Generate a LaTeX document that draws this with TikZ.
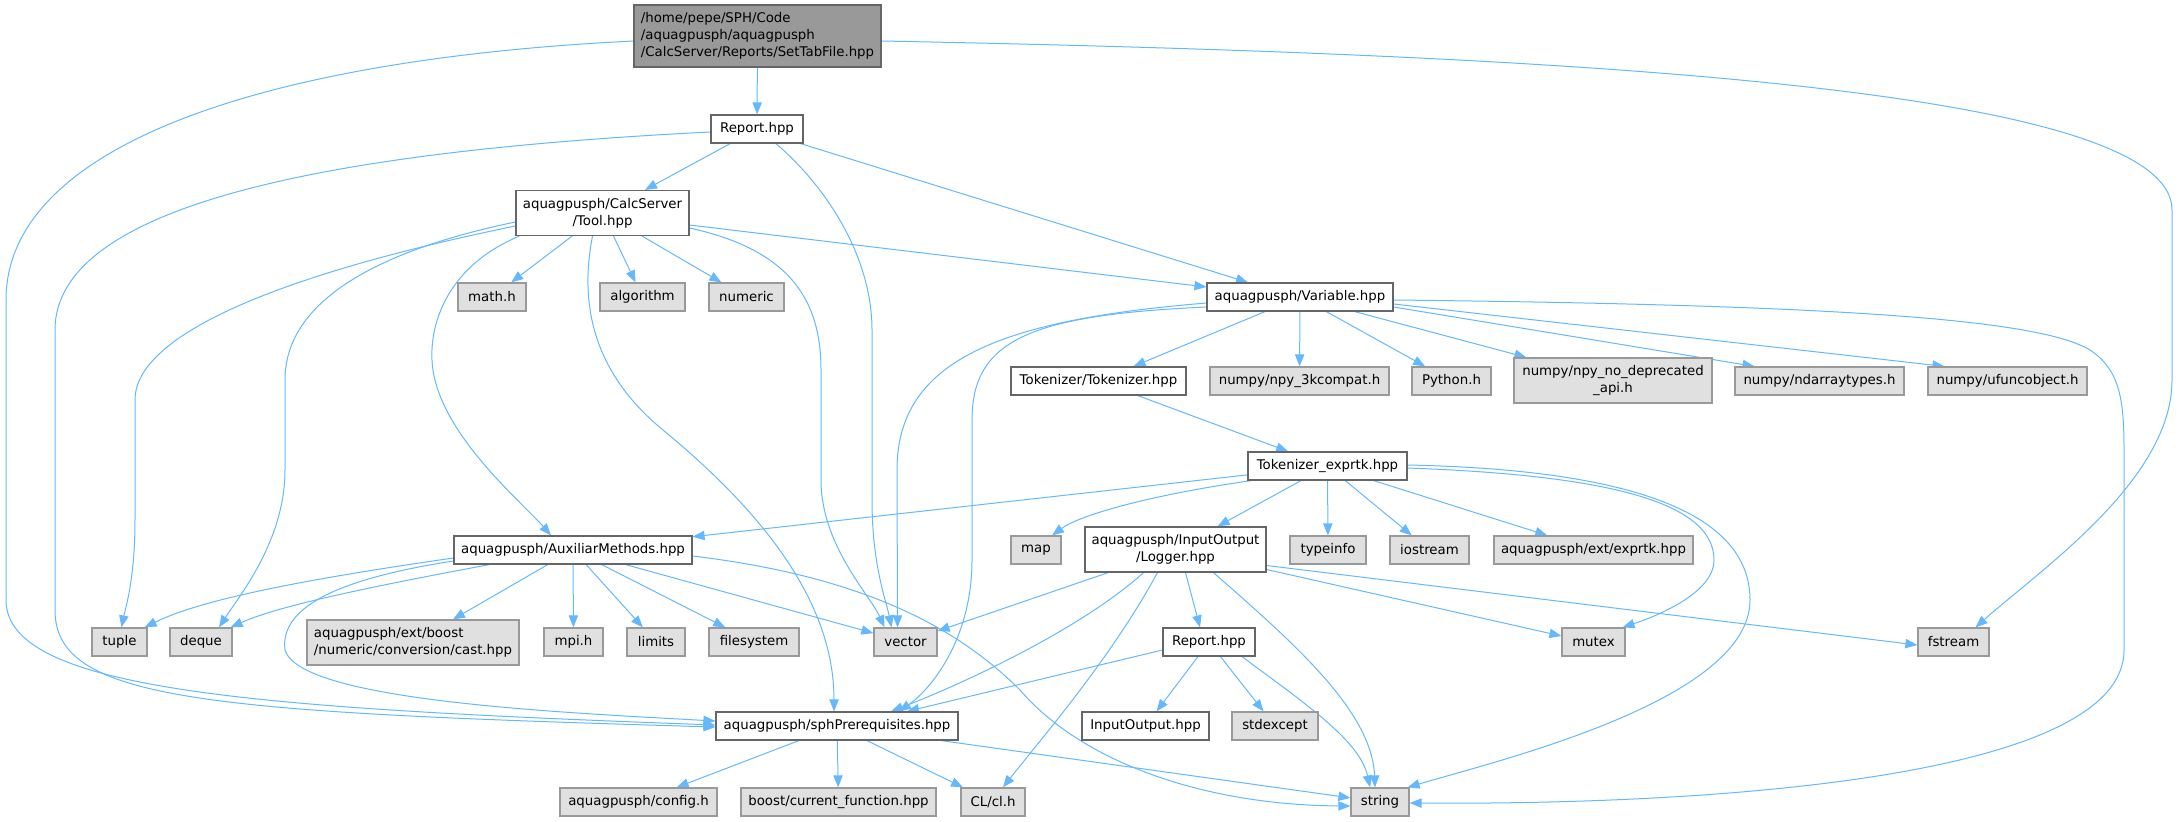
\documentclass[tikz,border=0pt]{standalone}
\usepackage{fontspec}
\setmainfont{DejaVu Sans}
\usetikzlibrary{arrows.meta,calc}
\definecolor{edgec}{HTML}{63B8FF}
\definecolor{grayfill}{HTML}{E0E0E0}
\definecolor{graydraw}{HTML}{999999}
\definecolor{whitedraw}{HTML}{666666}
\definecolor{rootfill}{HTML}{999999}
\pgfdeclarelayer{bg}
\pgfsetlayers{bg,main}
\begin{document}
\begin{tikzpicture}[x=0.75pt,y=-0.75pt,
  filebox/.style={draw=whitedraw,fill=white,line width=0.9pt,inner sep=0pt,minimum height=21pt,font=\fontsize{10}{12.75}\selectfont},
  sysbox/.style={filebox,draw=graydraw,fill=grayfill},
  rootbox/.style={filebox,fill=rootfill,minimum height=46.5pt,align=left},
  wd/.style={minimum width=#1*0.75pt},
  two/.style={minimum height=33.75pt,align=center},
  twol/.style={minimum height=33.75pt,align=left},
  dep/.style={draw=edgec,line width=0.75pt,-{Triangle[length=9pt,width=7pt]}}]
\useasboundingbox (0,0) rectangle (2180,821);

% ---------- nodes ----------
\node[rootbox,wd=247] (root) at (757.5,36) {/home/pepe/SPH/Code\\/aquagpusph/aquagpusph\\/CalcServer/Reports/SetTabFile.hpp};
\node[filebox,wd=92] (report1) at (757,129) {Report.hpp};
\node[filebox,wd=173,two] (tool) at (602.5,213) {aquagpusph/CalcServer\\/Tool.hpp};
\node[sysbox,wd=68] (mathh) at (492,297) {math.h};
\node[sysbox,wd=85] (algorithm) at (642.5,297) {algorithm};
\node[sysbox,wd=75] (numeric) at (746.5,297) {numeric};
\node[filebox,wd=186] (variable) at (1300,297) {aquagpusph/Variable.hpp};
\node[filebox,wd=175] (tokenizer) at (1098.5,381) {Tokenizer/Tokenizer.hpp};
\node[sysbox,wd=179] (npy3k) at (1299.5,381) {numpy/npy\_3kcompat.h};
\node[sysbox,wd=79] (python) at (1451.5,381) {Python.h};
\node[sysbox,wd=198,two] (nodep) at (1613,380.5) {numpy/npy\_no\_deprecated\\\_api.h};
\node[sysbox,wd=169] (ndarray) at (1819.5,381) {numpy/ndarraytypes.h};
\node[sysbox,wd=159] (ufunc) at (2007.5,381) {numpy/ufuncobject.h};
\node[filebox,wd=159] (exprtk) at (1327.5,466) {Tokenizer\_exprtk.hpp};
\node[filebox,wd=238] (aux) at (573,550) {aquagpusph/AuxiliarMethods.hpp};
\node[sysbox,wd=50] (map) at (1036,550) {map};
\node[filebox,wd=181,two] (logger) at (1175.5,549.5) {aquagpusph/InputOutput\\/Logger.hpp};
\node[sysbox,wd=76] (typeinfo) at (1328,550) {typeinfo};
\node[sysbox,wd=79] (iostream) at (1429.5,550) {iostream};
\node[sysbox,wd=199] (extexprtk) at (1593.5,550) {aquagpusph/ext/exprtk.hpp};
\node[sysbox,wd=55] (tuple) at (119.5,642) {tuple};
\node[sysbox,wd=62] (deque) at (201,642) {deque};
\node[sysbox,wd=212,twol] (boostcast) at (413,642.5) {aquagpusph/ext/boost\\/numeric/conversion/cast.hpp};
\node[sysbox,wd=59] (mpih) at (573.5,642) {mpi.h};
\node[sysbox,wd=58] (limits) at (656,642) {limits};
\node[sysbox,wd=90] (filesystem) at (754,642) {filesystem};
\node[sysbox,wd=63] (vector) at (905.5,642) {vector};
\node[filebox,wd=92] (report2) at (1209,642) {Report.hpp};
\node[sysbox,wd=63] (mutex) at (1593.5,642) {mutex};
\node[sysbox,wd=71] (fstream) at (1953.5,642) {fstream};
\node[filebox,wd=242] (sph) at (837,726) {aquagpusph/sphPrerequisites.hpp};
\node[filebox,wd=127] (inout) at (1145.5,726) {InputOutput.hpp};
\node[sysbox,wd=86] (stdexcept) at (1275,726) {stdexcept};
\node[sysbox,wd=157] (config) at (638.5,802) {aquagpusph/config.h};
\node[sysbox,wd=195] (curfunc) at (838.5,802) {boost/current\_function.hpp};
\node[sysbox,wd=64] (clh) at (993,802) {CL/cl.h};
\node[sysbox,wd=58] (string) at (1380,802) {string};

% ---------- edges ----------
\begin{pgfonlayer}{bg}
% root
\draw[dep] (root) -- (report1);
\draw[dep] ($(root.west)+(0,5)$) .. controls (250,60) and (6,150) .. (6,300) -- (6,600) .. controls (6,690) and (250,708) .. ($(sph.west)+(0,-1)$);
\draw[dep] ($(root.east)+(0,5)$) .. controls (1600,55) and (2172,90) .. (2172,210) -- (2172,380) .. controls (2172,480) and (2040,570) .. ($(fstream.north)+(22,0)$);
% report1
\draw[dep] (report1) -- (tool);
\draw[dep] ($(report1.west)+(0,3)$) .. controls (350,150) and (55,200) .. (55,330) -- (55,610) .. controls (55,700) and (200,712) .. ($(sph.west)+(0,1)$);
\draw[dep] ($(report1.south)+(19,0)$) .. controls (830,190) and (872,260) .. (872,330) -- (872,500) .. controls (872,565) and (886,600) .. ($(vector.north)+(-14,0)$);
\draw[dep] ($(report1.south east)+(-3,0)$) -- ($(variable.north)+(-52,0)$);
% tool
\draw[dep] (tool) -- (mathh);
\draw[dep] (tool) -- (algorithm);
\draw[dep] (tool) -- (numeric);
\draw[dep] ($(tool.east)+(0,12)$) -- ($(variable.west)+(0,-10)$);
\draw[dep] ($(tool.west)+(0,13)$) .. controls (300,270) and (135,330) .. (135,400) -- (135,520) .. controls (135,580) and (125,610) .. ($(tuple.north)+(2,0)$);
\draw[dep] ($(tool.west)+(0,9)$) .. controls (380,250) and (285,300) .. (285,380) -- (285,470) .. controls (285,540) and (240,595) .. ($(deque.north)+(18,0)$);
\draw[dep] ($(tool.south west)+(4,0)$) .. controls (450,265) and (430,320) .. (432,360) .. controls (435,430) and (520,500) .. ($(aux.north)+(-22,0)$);
\draw[dep] ($(tool.south)+(-10,0)$) .. controls (580,300) and (590,370) .. (663,430) .. controls (760,510) and (834,600) .. ($(sph.north)+(-3,0)$);
\draw[dep] ($(tool.east)+(0,15)$) .. controls (790,250) and (821,300) .. (821,370) -- (821,480) .. controls (821,545) and (870,595) .. ($(vector.north)+(-21,0)$);
% variable
\draw[dep] ($(variable.west)+(0,6)$) .. controls (1000,320) and (897,360) .. (897,470) -- ($(vector.north)+(-8,0)$);
\draw[dep] ($(variable.west)+(0,10)$) .. controls (1030,315) and (972,340) .. (972,420) -- (972,560) .. controls (972,640) and (930,690) .. ($(sph.north)+(62,0)$);
\draw[dep] (variable) -- (tokenizer);
\draw[dep] (variable) -- (npy3k);
\draw[dep] (variable) -- (python);
\draw[dep] (variable) -- (nodep);
\draw[dep] ($(variable.east)+(0,10)$) -- ($(ndarray.north)+(-65,0)$);
\draw[dep] ($(variable.east)+(0,7)$) -- ($(ufunc.north)+(-63,0)$);
\draw[dep] ($(variable.east)+(0,3)$) .. controls (1850,305) and (2040,320) .. (2090,350) .. controls (2120,370) and (2124,400) .. (2124,450) -- (2124,650) .. controls (2124,780) and (1700,805) .. ($(string.east)+(0,1)$);
% tokenizer
\draw[dep] (tokenizer) -- (exprtk);
% exprtk
\draw[dep] (exprtk) -- (aux);
\draw[dep] ($(exprtk.south west)+(4,0)$) .. controls (1150,495) and (1080,515) .. ($(map.north)+(16,0)$);
\draw[dep] (exprtk) -- (logger);
\draw[dep] (exprtk) -- (typeinfo);
\draw[dep] (exprtk) -- (iostream);
\draw[dep] (exprtk) -- (extexprtk);
\draw[dep] ($(exprtk.east)+(0,2)$) .. controls (1600,475) and (1714,500) .. (1714,560) .. controls (1714,592) and (1660,615) .. ($(mutex.north east)+(-3,0)$);
\draw[dep] ($(exprtk.east)+(0,-1)$) .. controls (1650,470) and (1750,520) .. (1750,600) .. controls (1750,700) and (1500,760) .. ($(string.north east)+(-2,0)$);
% aux
\draw[dep] ($(aux.west)+(0,8)$) .. controls (300,580) and (200,600) .. ($(tuple.north east)+(-3,0)$);
\draw[dep] ($(aux.south west)+(36,0)$) .. controls (380,585) and (280,605) .. ($(deque.north east)+(-2,0)$);
\draw[dep] ($(aux.west)+(0,11)$) .. controls (330,580) and (280,610) .. (285,650) .. controls (300,700) and (550,712) .. ($(sph.west)+(0,-5)$);
\draw[dep] (aux) -- (boostcast);
\draw[dep] (aux) -- (mpih);
\draw[dep] (aux) -- (limits);
\draw[dep] (aux) -- (filesystem);
\draw[dep] (aux) -- (vector);
\draw[dep] ($(aux.east)+(0,6)$) .. controls (850,575) and (950,620) .. (1020,690) .. controls (1080,760) and (1200,805) .. ($(string.west)+(0,4)$);
% logger
\draw[dep] (logger) -- (vector);
\draw[dep] ($(logger.south)+(-32,0)$) .. controls (1080,630) and (960,685) .. ($(sph.north)+(54,0)$);
\draw[dep] ($(logger.south)+(-18,0)$) .. controls (1110,660) and (1040,740) .. ($(clh.north)+(10,0)$);
\draw[dep] ($(logger.south)+(10,0)$) -- ($(report2.north)+(-9,0)$);
\draw[dep] ($(logger.south)+(38,0)$) .. controls (1290,640) and (1372,710) .. ($(string.north)+(-5,0)$);
\draw[dep] ($(logger.east)+(0,20)$) -- ($(mutex.west)+(0,-6)$);
\draw[dep] ($(logger.east)+(0,16)$) -- ($(fstream.west)+(0,3)$);
% report2
\draw[dep] ($(report2.west)+(0,8)$) -- ($(sph.north)+(70,0)$);
\draw[dep] (report2) -- (inout);
\draw[dep] (report2) -- (stdexcept);
\draw[dep] ($(report2.south)+(33,0)$) .. controls (1300,700) and (1360,740) .. ($(string.north)+(-10,0)$);
% sph
\draw[dep] (sph) -- (config);
\draw[dep] (sph) -- (curfunc);
\draw[dep] (sph) -- (clh);
\draw[dep] (sph) -- (string);
\end{pgfonlayer}
\end{tikzpicture}
\end{document}
